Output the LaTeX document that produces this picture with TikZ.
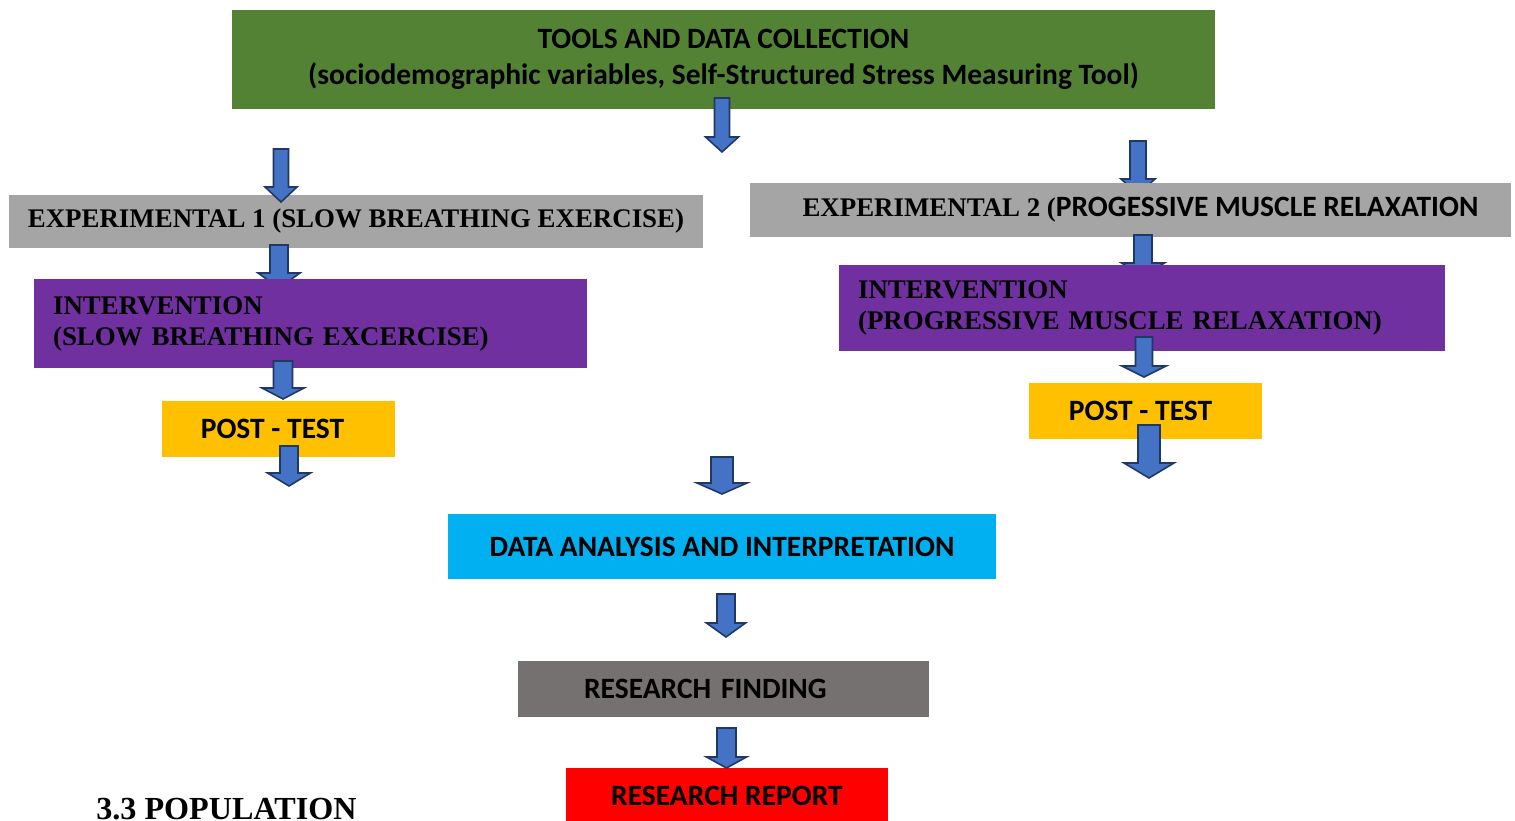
\documentclass[tikz,border=0pt]{standalone}
\usepackage{fontspec}
\setmainfont{Liberation Serif}
\newfontfamily\calibri{Carlito}
\usepackage{xcolor}

\definecolor{toolgreen}{RGB}{84,130,53}
\definecolor{expgray}{RGB}{165,165,165}
\definecolor{intpurple}{RGB}{112,48,160}
\definecolor{postyellow}{RGB}{255,192,0}
\definecolor{anacyan}{RGB}{0,176,240}
\definecolor{findgray}{RGB}{118,113,113}
\definecolor{arrowblue}{RGB}{68,114,196}
\definecolor{arrowline}{RGB}{31,56,100}

\newcommand{\serifbold}{\bfseries\fontsize{15.3}{17.6}\selectfont}
\newcommand{\sansbold}{\calibri\bfseries\fontsize{16.8}{19}\selectfont}

\tikzset{box/.style = {rectangle, inner sep=0pt, align=center, text=black},
         blockarrow/.style = {draw=arrowline, fill=arrowblue, line width=0.9pt, line join=miter}}

% block arrow pointing down: x, top, start of head, tip, half shaft, half head
\newcommand{\flowarrow}[6]{%
  \draw[blockarrow] (#1-#5,#2) -- (#1+#5,#2) -- (#1+#5,#3) -- (#1+#6,#3)
    -- (#1,#4) -- (#1-#6,#3) -- (#1-#5,#3) -- cycle;}

\begin{document}
\begin{tikzpicture}[x=0.02cm, y=-0.02cm]
    \useasboundingbox (0,0) rectangle (1515,821);

    \node[box, fill=toolgreen, minimum width=19.66cm, minimum height=1.98cm,
          font=\calibri\bfseries\fontsize{16.8}{20.4}\selectfont] (tools) at (723.5,59.5)
          {TOOLS AND DATA COLLECTION\\(sociodemographic variables, Self-Structured Stress Measuring Tool)};
    \node[box, fill=expgray, minimum width=13.88cm, minimum height=1.06cm, font=\serifbold] (exp1) at (356,221.5)
          {EXPERIMENTAL 1 (SLOW BREATHING EXERCISE)};

    \flowarrow{1138}{141}{179}{194}{8}{17}
    \node[box, fill=expgray, minimum width=15.22cm, minimum height=1.08cm, font=\serifbold] (exp2) at (1130.5,210)
          {\hspace*{0.4cm}EXPERIMENTAL 2 ({\sansbold PROGESSIVE MUSCLE RELAXATION}};

    \flowarrow{722}{98}{137}{152}{7.5}{16.5}
    \flowarrow{281}{149}{187}{202}{7.5}{16}
    \flowarrow{279}{245}{273}{288}{9}{21}
    \flowarrow{1143}{235}{263}{276}{9}{21.5}

    \node[box, fill=intpurple, align=left, inner xsep=0.38cm, text width=10.3cm, minimum height=1.78cm,
          font=\serifbold] (int1) at (310.5,323.5)
          {INTERVENTION\\(SLOW BREATHING EXCERCISE)};
    \node[box, fill=intpurple, align=left, inner xsep=0.38cm, text width=11.36cm, minimum height=1.72cm,
          font=\serifbold] (int2) at (1142,308)
          {INTERVENTION\\(PROGRESSIVE MUSCLE RELAXATION)};

    \flowarrow{283}{361}{388}{399}{9.5}{21}
    \flowarrow{1144}{337}{366}{377}{8.5}{22}

    \node[box, fill=postyellow, minimum width=4.66cm, minimum height=1.12cm, font=\sansbold] (post1) at (278.5,429)
          {POST - TEST\hspace*{0.24cm}};
    \node[box, fill=postyellow, minimum width=4.66cm, minimum height=1.12cm, font=\sansbold] (post2) at (1145.5,411)
          {POST - TEST\hspace*{0.2cm}};
    \node[box, fill=anacyan, minimum width=10.96cm, minimum height=1.3cm, font=\sansbold] (analysis) at (722,546.5)
          {DATA ANALYSIS AND INTERPRETATION};
    \node[box, fill=findgray, align=left, inner xsep=1.32cm, text width=5.58cm, minimum height=1.12cm,
          font=\sansbold] (finding) at (723.5,689)
          {RESEARCH FINDING};
    \node[box, fill=red, minimum width=6.44cm, minimum height=1.12cm, font=\sansbold] (report) at (727,796)
          {RESEARCH REPORT};

    \flowarrow{289}{446}{473}{486}{9}{21.5}
    \flowarrow{1149}{425}{463}{478}{11}{25}
    \flowarrow{722}{457}{483}{494}{11}{25}
    \flowarrow{726}{594}{623}{637}{9}{19.5}
    \flowarrow{726.5}{728}{757}{768}{9.5}{20}

    % section heading under the chart
    \node[anchor=base west, inner sep=0pt, font=\bfseries\fontsize{18.3}{22}\selectfont] (population) at (96,819)
          {3.3 POPULATION};
\end{tikzpicture}
\end{document}
